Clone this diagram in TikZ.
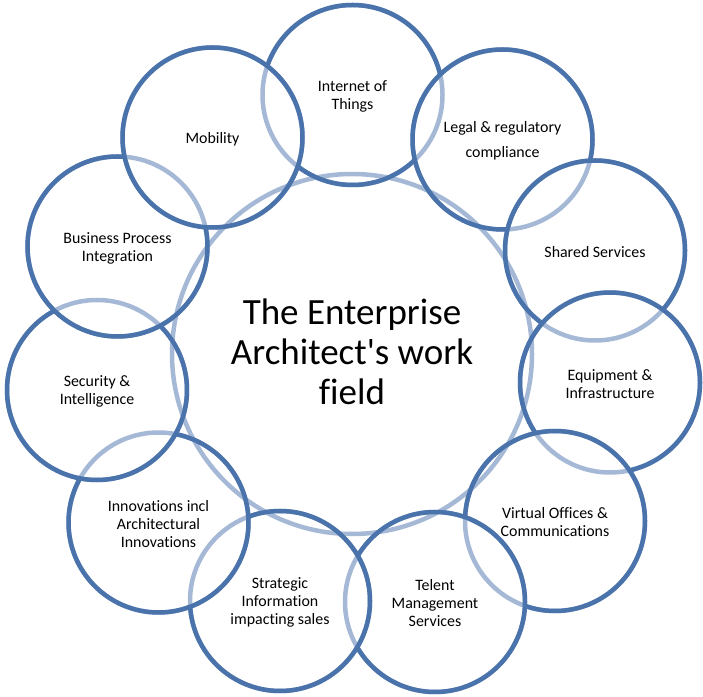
\documentclass[tikz,border=0pt]{standalone}
\usepackage{fontspec}
\setmainfont{Carlito}[Ligatures={TeX,CommonOff}]
\usetikzlibrary{positioning}
\definecolor{ringdark}{HTML}{4A73AB}
\definecolor{ringlight}{HTML}{A5B9D6}

\begin{document}
\begin{tikzpicture}[
    x=1pt, y=1pt,
    ring/.style={line width=4.5pt},
    bubble/.style ={
        align=center, yshift=-1.5pt,
        font=\fontsize{15.9}{18}\selectfont,
    },
    hub/.style ={
        align=center,
        font=\fontsize{37}{40}\selectfont,
    },
    ]
    \useasboundingbox (0,0) rectangle (703,696);
    \coordinate (mid) at (352,342);
    \node[hub] (hub) at ([yshift=2]mid) {The Enterprise\\Architect\textquotesingle s work\\field};

    % outer ring, clockwise from the top
    \node[bubble] (iot) at (352.5,601) {Internet of\\Things};
    \node[bubble] (legal) at (502.5,556.5) {Legal \& regulatory\\[7pt]compliance};
    \node[bubble] (shared) at (595,445.5) {Shared Services};
    \node[bubble] (equip) at (610,313.5) {Equipment \&\\Infrastructure};
    \node[bubble] (virtual) at (555,175) {Virtual Offices \&\\Communications};
    \node[bubble] (telent) at (435,94) {Telent\\Management\\Services};
    \node[bubble] (strategic) at (280,95) {Strategic\\Information\\impacting sales};
    \node[bubble] (innov) at (158.5,173.5) {Innovations incl\\Architectural\\Innovations};
    \node[bubble] (security) at (97,306) {Security \&\\Intelligence};
    \node[bubble] (business) at (117.5,449.5) {Business Process\\Integration};
    \node[bubble] (mobility) at (212.5,558.5) {Mobility};

    % pale outlines first, dark ones on top
    \foreach \n in {iot,legal,shared,equip,virtual,telent,strategic,innov,security,business,mobility}
        \draw[ring, ringlight] ([yshift=1.5]\n.center) circle[radius=90];
    \draw[ring, ringlight] (mid) circle[radius=180];

    % each circle goes dark except where the next one covers it
    \foreach \n/\m in {legal/shared,shared/equip,equip/virtual,virtual/telent,telent/strategic,
                       strategic/innov,innov/security,security/business,business/mobility}{
        \begin{scope}[even odd rule]
            \clip (0,0) rectangle (703,696) ([yshift=1.5]\m.center) circle[radius=90];
            \draw[ring, ringdark] ([yshift=1.5]\n.center) circle[radius=90];
        \end{scope}
    }
    \draw[ring, ringdark] ([yshift=1.5]mobility.center) circle[radius=90];
    \begin{scope}[even odd rule]
        \clip (0,0) rectangle (703,696) ([yshift=1.5]legal.center) circle[radius=90];
        \clip (0,0) rectangle (703,696) ([yshift=1.5]mobility.center) circle[radius=90];
        \draw[ring, ringdark] ([yshift=1.5]iot.center) circle[radius=90];
    \end{scope}

\end{tikzpicture}
\end{document}
